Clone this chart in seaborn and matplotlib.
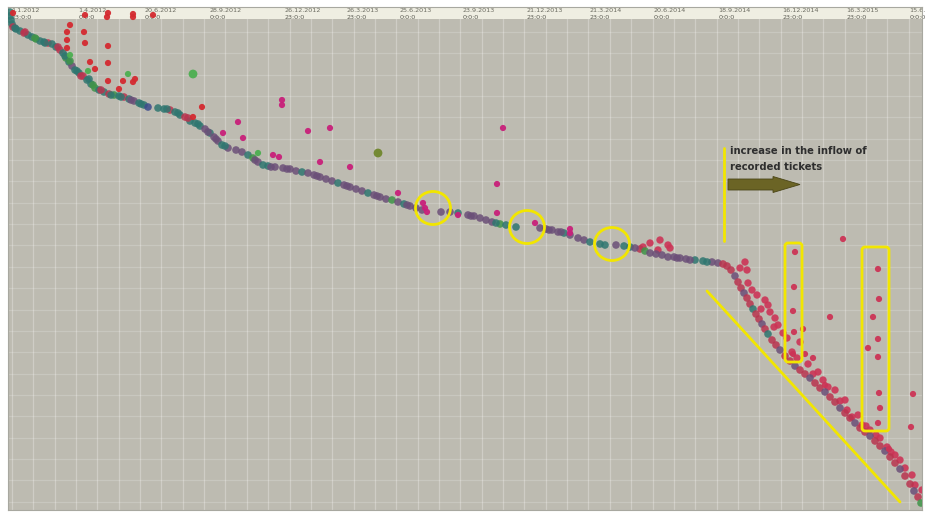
import numpy as np
import pandas as pd
import matplotlib
matplotlib.use("Agg")
import matplotlib.pyplot as plt
import matplotlib.patches as mpatches
import matplotlib.transforms as mtransforms
import seaborn as sns

## Daten (x = Wochen seit 1.1.2012, y = Position 0..100)
tick_weeks = [0, 13.4, 26.6, 39.6, 54.6, 67, 77.6, 90.2, 103, 115.6, 128.4, 141.4, 154.2, 167, 179.6]
tick_dates = ["1.1.2012", "1.4.2012", "20.6.2012", "28.9.2012", "26.12.2012", "26.3.2013", "25.6.2013",
              "23.9.2013", "21.12.2013", "21.3.2014", "20.6.2014", "18.9.2014", "16.12.2014", "16.3.2015",
              "15.6.2015"]
tick_times = ["23:0:0", "0:0:0", "0:0:0", "0:0:0", "23:0:0", "23:0:0", "0:0:0", "0:0:0", "23:0:0",
              "23:0:0", "0:0:0", "0:0:0", "23:0:0", "23:0:0", "0:0:0"]

# Haupttrend
trend_week = [0.0, 0.0, 0.2, 0.4, 0.6, 1.2, 2.0, 2.8, 3.6, 4.4, 5.2, 6.0, 6.8, 7.6, 8.4, 9.2, 10.0, 10.6,
              11.2, 11.8, 12.4, 13.0, 13.8, 14.6, 15.4, 16.2, 17.0, 17.8, 18.8, 19.8, 20.8, 21.8, 22.8,
              23.8, 24.8, 25.8, 26.8, 27.6,
              29.6, 30.8, 32.0, 33.0, 34.0, 35.0, 36.0, 37.0, 38.0, 39.0, 40.0, 40.8, 41.6, 42.4, 43.6,
              45.2, 46.4, 47.6, 48.6, 49.6, 50.6, 51.6, 53.0, 54.6, 56.0, 57.2, 58.4, 59.6, 60.8, 62.0,
              63.2, 64.4, 65.6, 66.8, 68.0, 69.2, 70.4, 71.6, 72.8, 74.0, 75.2, 76.4, 77.6, 78.8, 80.0,
              81.2, 82.4, 86.2, 88.0, 89.6, 91.6, 92.8, 94.0, 95.2, 96.4, 98.0, 99.2, 101.2, 106.0,
              107.2, 108.4, 109.6, 110.8, 112.0, 113.6, 114.8, 116.0, 118.0, 121.2, 122.8, 124.0, 126.0,
              127.0, 128.0, 129.2, 130.4, 131.6, 132.8, 134.0, 135.2, 137.0, 138.6, 140.4, 141.6, 142.6,
              143.4, 144.2, 145.0, 145.6, 146.2, 146.8, 147.4, 148.0, 148.6, 149.2, 149.8, 150.4, 151.0,
              151.6, 152.4, 153.2, 154.0, 155.0, 156.0, 157.0, 158.0, 159.0, 160.0, 161.0, 162.0, 163.0,
              164.0, 165.0, 166.0, 167.0, 168.0, 169.0, 170.0, 171.0, 172.0, 173.0, 174.0, 175.0, 176.0,
              177.0, 178.0, 179.0, 180.0, 180.8, 181.6, 182.2]
trend_level = [99.6, 98.8, 98.0, 97.2, 96.6, 96.2, 95.8, 95.4, 95.0, 94.6, 94.2, 93.8, 93.6, 93.4, 93.2,
               92.6, 92.0, 91.4, 90.4, 89.6, 88.8, 88.0, 87.4, 86.8, 86.0, 85.2, 84.4, 84.0, 83.6, 83.2,
               83.0, 82.8, 82.6, 82.2, 81.8, 81.4, 81.0, 80.6,
               80.4, 80.2, 80.0, 79.6, 79.0, 78.6, 77.8, 77.4, 76.8, 76.2, 75.4, 74.6, 73.8, 73.0, 72.4,
               72.0, 71.6, 71.0, 70.4, 69.6, 69.0, 68.8, 68.6, 68.4, 68.2, 67.8, 67.6, 67.4, 67.0, 66.6,
               66.2, 65.8, 65.4, 65.0, 64.6, 64.2, 63.8, 63.4, 63.0, 62.6, 62.2, 62.0, 61.6, 61.2, 60.8,
               60.4, 60.0, 59.6, 59.6, 59.4, 59.0, 58.8, 58.4, 58.0, 57.6, 57.2, 57.0, 56.6, 56.4,
               56.2, 56.0, 55.6, 55.4, 55.0, 54.4, 54.0, 53.6, 53.2, 53.0, 52.8, 52.6, 52.2,
               51.8, 51.4, 51.2, 51.0, 50.6, 50.6, 50.4, 50.2, 50.0, 49.8, 49.6, 49.4, 49.2,
               48.8, 48.0, 46.8, 45.6, 44.4, 43.4, 42.4, 41.2, 40.2, 39.2, 38.2, 37.2, 36.2,
               35.2, 34.0, 33.0, 32.0, 30.8, 29.8, 28.8, 28.0, 27.2, 26.4, 25.4, 24.4, 23.6,
               22.6, 21.6, 20.4, 19.4, 18.4, 17.4, 16.4, 15.6, 14.8, 13.8, 12.8, 11.8, 10.6,
               9.4, 8.2, 6.8, 5.2, 3.8, 2.6, 1.4]
# t=teal, g=gruen, p=lila, r=rot, b=blau
trend_group = list("ttttrttrttgttrttrt" "gtpttrttgttrgtr" "tpttb"
                   "ttrttrtttptpptp" "pptgpttpppptppp" "pptpppptpppgptp"
                   "pppptpppppgttp" "ppptpppttpttr" "gpppppppttppr"
                   "rrprrprrtrrpr" "trrprrprrprrp" "rrprrprrprrpr" "rprrprg")

# zusaetzliche Punkte im Band (dichter Bereich)
extra_week = [1.0, 3.0, 5.0, 7.0, 9.6, 11.0, 12.0, 13.4, 14.2, 15.8, 16.6, 18.2, 20.2, 22.2, 24.2,
              26.2, 31.4, 33.6, 35.6, 37.6, 39.6, 41.2, 43.0, 49.0, 52.2, 55.4, 61.4, 67.4, 73.4,
              79.4, 92.2, 97.2, 107.8, 110.2, 119.0, 125.0, 133.4, 136.0, 139.4]
extra_level = [96.4, 95.6, 94.4, 93.4, 92.6, 90.8, 89.8, 87.8, 86.8, 86.2, 85.0, 84.0, 83.0, 82.6, 82.0,
               81.2, 80.2, 79.4, 78.4, 77.2, 75.6, 74.2, 72.8, 70.0, 68.6, 68.2, 66.8, 64.8, 62.8,
               61.0, 58.8, 57.4, 56.0, 55.6, 53.0, 52.4, 50.4, 50.0, 49.6]
extra_group = list("trgtrtgtrtgrttp" "tttrtpptppppp" "ppptpptpp" "pt")

# rote Punkte rechts vom Trend ab 2014
band_week = [128.0, 129.6, 131.6, 132.0, 126.6, 130.0,
             147.0, 147.4, 146.0, 147.6, 148.4, 149.4, 151.0, 151.6, 152.0, 153.0, 153.6, 154.6, 155.4,
             158.0, 159.6, 161.6, 162.6, 165.0, 167.0, 167.4, 168.4, 169.6, 170.4, 172.0, 174.0, 177.0,
             178.0, 179.0, 180.4, 181.0, 182.4,
             150.2, 152.8, 156.4, 157.4, 160.6, 163.6, 166.0, 171.2, 173.2, 175.4, 176.2]
band_level = [53.4, 52.0, 53.0, 52.4, 52.6, 54.0,
              49.6, 48.0, 48.4, 45.4, 44.0, 43.0, 42.0, 41.0, 39.6, 38.4, 37.0, 35.4, 34.4,
              33.6, 29.2, 27.6, 26.0, 24.0, 22.0, 20.0, 18.6, 19.0, 17.0, 16.0, 14.4, 11.0,
              10.0, 8.4, 7.0, 5.0, 4.0,
              40.2, 36.6, 31.6, 30.4, 27.2, 24.6, 21.8, 16.8, 15.0, 12.6, 11.6]

# Ausreisser
out_week = [0.6, 15.0, 19.6, 19.4, 24.6, 24.6, 28.6, 12.0, 11.4, 14.8, 11.4, 15.0, 19.6, 11.4, 16.0,
            19.6, 17.0, 22.6, 19.6, 24.6, 25.0, 21.8, 38.4, 36.6,
            45.6, 46.6, 42.6, 52.6, 53.8, 54.4, 54.4,
            23.6, 12.0, 15.6, 49.6,
            59.6, 64.0, 62.0, 68.0, 77.6, 82.6, 83.0, 83.4, 97.4, 98.6, 97.4, 105.0, 112.0, 112.0, 89.6,
            166.6, 157.0, 156.8, 156.6, 156.8, 156.6, 158.6, 159.0, 160.6, 164.0, 163.0, 173.6, 173.8,
            172.6, 173.6, 171.6, 173.6, 173.8, 174.0, 173.6, 180.6, 180.2, 175.8]
out_level = [99.4, 99.0, 99.4, 98.6, 98.6, 99.2, 99.0, 97.0, 95.6, 95.6, 94.0, 93.4, 92.8, 92.4, 89.6,
             89.4, 88.2, 85.8, 85.8, 85.6, 86.2, 84.2, 80.6, 78.6,
             77.6, 74.4, 75.4, 71.0, 70.6, 82.0, 81.0,
             87.2, 91.0, 87.8, 71.4,
             75.8, 76.4, 69.6, 68.6, 63.4, 61.4, 60.4, 59.6, 65.2, 76.4, 59.4, 57.4, 56.2, 55.4, 59.0,
             54.2, 51.6, 44.6, 39.8, 35.6, 31.2, 36.2, 31.2, 30.4, 38.6, 25.0, 48.2, 42.2,
             38.6, 34.2, 32.4, 30.6, 23.4, 20.4, 17.4, 23.2, 16.6, 12.2]
out_group = ["R"] * 24 + ["m"] * 7 + ["G"] * 4 + ["m"] * 15 + ["c"] * 23

# grosse Einzelpunkte
big_week = [36.6, 73.6]
big_level = [87.2, 71.4]
big_group = ["G", "O"]

palette = {"t": "#2f7670", "g": "#3f9448", "p": "#6b4f78", "r": "#b9344f", "b": "#3c4a8c",
           "R": "#d42a30", "m": "#c8207a", "G": "#4caf50", "O": "#70872c", "c": "#cc3456"}

trend = pd.DataFrame({"week": trend_week + extra_week, "level": trend_level + extra_level,
                      "group": trend_group + extra_group})
band = pd.DataFrame({"week": band_week, "level": band_level, "group": "c"})
outl = pd.DataFrame({"week": out_week, "level": out_level, "group": out_group})
big = pd.DataFrame({"week": big_week, "level": big_level, "group": big_group})

## Plot
sns.set_style("white", {"axes.facecolor": "#bdbbb1"})
fig = plt.figure(figsize=(9.25, 5.12), dpi=100)
ax = fig.add_axes([8 / 925, 2 / 512, 914 / 925, 503 / 512])

ax.set_xlim(-0.4, 182.4)
ax.set_ylim(0, 100.6)

# Gitter
for gx in np.arange(0.4, 182.4, 4.27):
    ax.axvline(gx, color="white", alpha=0.28, lw=0.9, zorder=0)
for gy in np.arange(95.6, 0, -4.27):
    ax.axhline(gy, color="white", alpha=0.18, lw=0.9, zorder=0)

# Kopfzeile
ax.axhspan(98.2, 100.6, color="#efeee2", zorder=0.5, lw=0)
trans = mtransforms.blended_transform_factory(ax.transData, ax.transAxes)
for w, d, t in zip(tick_weeks, tick_dates, tick_times):
    ax.text(w + 0.3, 0.998, d, transform=trans, fontsize=4.6, color="#6a6a60", va="top", ha="left",
            zorder=1)
    ax.text(w + 0.3, 0.984, t, transform=trans, fontsize=4.6, color="#5a5a52", va="top", ha="left",
            zorder=1)

sns.scatterplot(data=band, x="week", y="level", hue="group", palette=palette, s=28, alpha=0.9,
                linewidth=0, legend=False, ax=ax, zorder=2)
sns.scatterplot(data=trend, x="week", y="level", hue="group", palette=palette, s=30, alpha=0.85,
                linewidth=0, legend=False, ax=ax, zorder=3)
sns.scatterplot(data=outl, x="week", y="level", hue="group", palette=palette, s=20, alpha=0.95,
                linewidth=0, legend=False, ax=ax, zorder=3)
sns.scatterplot(data=big, x="week", y="level", hue="group", palette=palette, s=40, alpha=0.95,
                linewidth=0, legend=False, ax=ax, zorder=3)

# Markierungen
yel = "#f2e600"
for cx, cy in [(84.6, 60.4), (103.4, 56.6), (120.4, 53.2)]:
    ax.add_patch(mpatches.Ellipse((cx, cy), 7.0, 6.6, fill=False, ec=yel, lw=2, zorder=4))
ax.add_patch(mpatches.FancyBboxPatch((155.0, 29.6), 3.4, 23.8, boxstyle="round,pad=0,rounding_size=0.6",
                                     fill=False, ec=yel, lw=2, zorder=4))
ax.add_patch(mpatches.FancyBboxPatch((170.4, 15.8), 5.4, 36.8, boxstyle="round,pad=0,rounding_size=0.6",
                                     fill=False, ec=yel, lw=2, zorder=4))
ax.plot([142.8, 142.8], [53.8, 72.4], color=yel, lw=2, zorder=4)
ax.plot([139.4, 178.0], [43.8, 1.6], color=yel, lw=2, zorder=4)
ax.add_patch(mpatches.FancyArrow(143.6, 65.1, 14.4, 0, width=2.2, head_width=3.2, head_length=5.4,
                                 length_includes_head=True, fc="#6b6425", ec="#4a4518", lw=0.6, zorder=4))
ax.text(144.0, 72.9, "increase in the inflow of\nrecorded tickets", fontsize=7.2, fontweight="bold",
        color="#2e2e2e", va="top", ha="left", linespacing=1.75, zorder=5)

ax.set_xlabel("")
ax.set_ylabel("")
ax.set_xticks([])
ax.set_yticks([])
for sp in ax.spines.values():
    sp.set_color("#a8a8a0")
    sp.set_linewidth(0.8)

fig.savefig("out.png", dpi=100, facecolor="white")
